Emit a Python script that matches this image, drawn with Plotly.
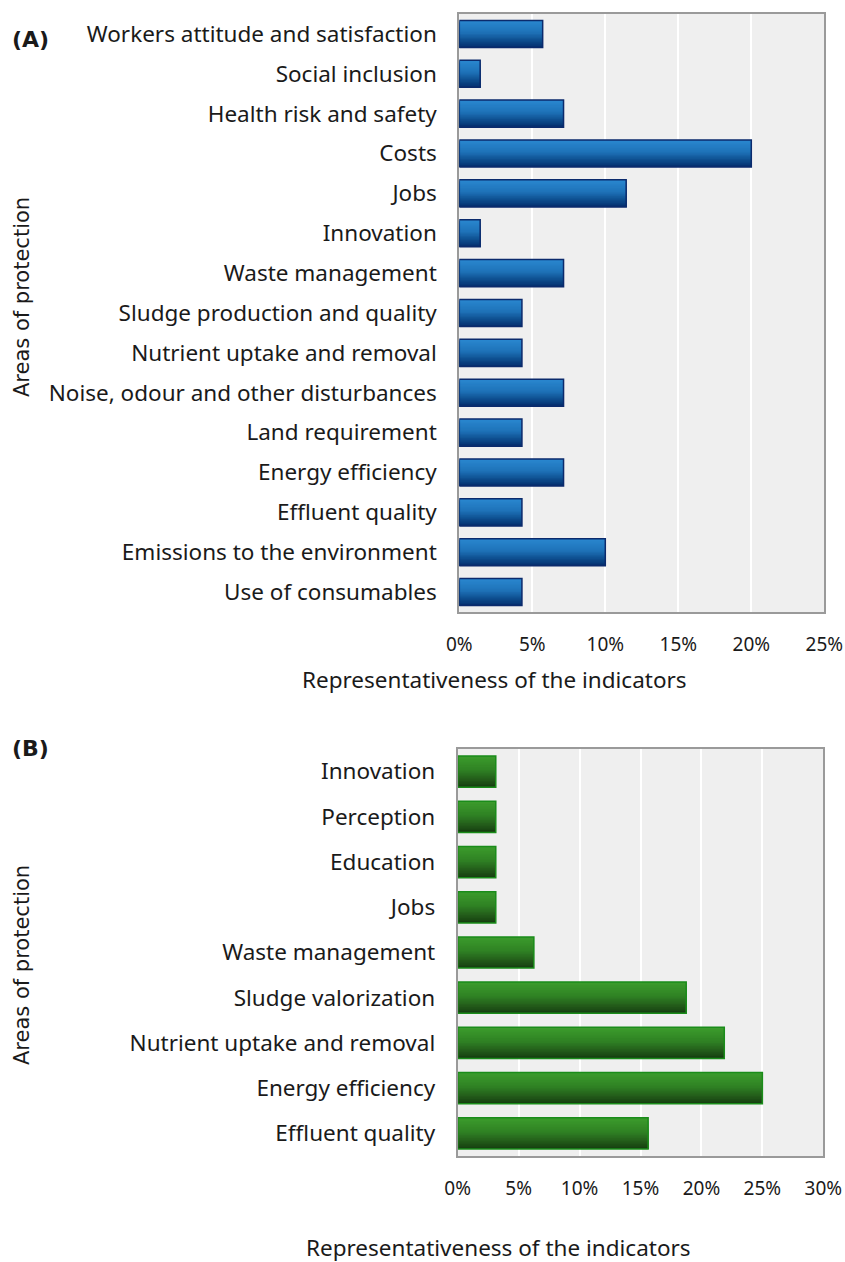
import plotly.graph_objects as go

# ---------------- data ----------------
cats_a = ["Workers attitude and satisfaction", "Social inclusion", "Health risk and safety",
          "Costs", "Jobs", "Innovation", "Waste management", "Sludge production and quality",
          "Nutrient uptake and removal", "Noise, odour and other disturbances",
          "Land requirement", "Energy efficiency", "Effluent quality",
          "Emissions to the environment", "Use of consumables"]
vals_a = [5.71, 1.43, 7.14, 20.0, 11.43, 1.43, 7.14, 4.29, 4.29, 7.14, 4.29, 7.14, 4.29, 10.0, 4.29]

cats_b = ["Innovation", "Perception", "Education", "Jobs", "Waste management",
          "Sludge valorization", "Nutrient uptake and removal", "Energy efficiency",
          "Effluent quality"]
vals_b = [3.125, 3.125, 3.125, 3.125, 6.25, 18.75, 21.875, 25.0, 15.625]

ticks_a = [0, 5, 10, 15, 20, 25]
ticks_b = [0, 5, 10, 15, 20, 25, 30]
ticktext_a = ["%d%%" % v for v in ticks_a]
ticktext_b = ["%d%%" % v for v in ticks_b]

# ---------------- style ----------------
W, H = 845, 1262
FONT = "Noto Sans"
TXT = "#1a1a1a"
blue_stops = [(0.0, (42, 136, 208)), (0.45, (30, 114, 184)), (0.75, (13, 76, 140)), (1.0, (4, 46, 110))]
green_stops = [(0.0, (60, 156, 44)), (0.45, (47, 130, 36)), (0.75, (35, 92, 26)), (1.0, (22, 62, 16))]
NSLICE = 20


def interp(stops, t):
    for (t0, c0), (t1, c1) in zip(stops[:-1], stops[1:]):
        if t <= t1:
            f = (t - t0) / (t1 - t0) if t1 > t0 else 0
            return "rgb(%d,%d,%d)" % tuple(round(a + (b - a) * f) for a, b in zip(c0, c1))
    return "rgb(%d,%d,%d)" % stops[-1][1]


fig = go.Figure()


def add_bars(cats, vals, stops, outline, width, xa, ya):
    # gradient: each slice runs from its own top down to the bar bottom,
    # later (darker) slices are painted over earlier ones -> no seams
    for i in range(NSLICE):
        t = (i + 0.5) / NSLICE
        fig.add_trace(go.Bar(
            y=cats, x=vals, orientation="h", base=0,
            width=width * (NSLICE - i) / NSLICE,
            offset=-width / 2 + i * width / NSLICE,
            marker=dict(color=interp(stops, t), line=dict(width=0)),
            xaxis=xa, yaxis=ya, showlegend=False, hoverinfo="skip"))
    fig.add_trace(go.Bar(
        y=cats, x=vals, orientation="h", base=0, width=width, offset=-width / 2,
        marker=dict(color="rgba(0,0,0,0)", line=dict(color=outline, width=1.5)),
        xaxis=xa, yaxis=ya, showlegend=False))


add_bars(cats_a, vals_a, blue_stops, "#0b2a6c", 0.68, "x", "y")
add_bars(cats_b, vals_b, green_stops, "#1a8c1a", 0.69, "x2", "y2")


def px_x(p):
    return p / W


def px_y(p):
    return 1 - p / H


axis_common = dict(showline=True, mirror=True, linecolor="#9a9a9a", linewidth=2,
                   ticks="", zeroline=False, automargin=False)
xtick_font = dict(family=FONT, size=19, color=TXT)
ytick_font = dict(family=FONT, size=22.5, color=TXT)

fig.update_layout(
    width=W, height=H, autosize=False, margin=dict(l=0, r=0, t=0, b=0, autoexpand=False),
    paper_bgcolor="white", plot_bgcolor="#efefef", barmode="overlay",
    font=dict(family=FONT, color=TXT),
    xaxis=dict(domain=[px_x(459.3), px_x(824.3)], range=[0, 25], tickmode="array",
               tickvals=ticks_a, ticktext=ticktext_a, tickfont=xtick_font,
               showgrid=True, gridcolor="white", gridwidth=2,
               anchor="y", ticklabelstandoff=14, **axis_common),
    yaxis=dict(domain=[px_y(612), px_y(14)], type="category", categoryorder="array",
               categoryarray=cats_a, autorange="reversed", anchor="x", tickfont=ytick_font,
               showgrid=False, ticklabelstandoff=16, **axis_common),
    xaxis2=dict(domain=[px_x(457.7), px_x(823.3)], range=[0, 30], tickmode="array",
                tickvals=ticks_b, ticktext=ticktext_b, tickfont=xtick_font,
                showgrid=True, gridcolor="white", gridwidth=2,
                anchor="y2", ticklabelstandoff=14, **axis_common),
    yaxis2=dict(domain=[px_y(1156), px_y(749)], type="category", categoryorder="array",
                categoryarray=cats_b, autorange="reversed", anchor="x2", tickfont=ytick_font,
                showgrid=False, ticklabelstandoff=16, **axis_common),
)


def note(text, x, y, size, family=FONT, angle=0):
    return dict(text=text, x=px_x(x), y=px_y(y), xref="paper", yref="paper",
                xanchor="center", yanchor="middle", showarrow=False, textangle=angle,
                font=dict(family=family, size=size, color=TXT))


ann = [
    note("<b>(A)</b>", 31, 40, 22, "DejaVu Sans"),
    note("<b>(B)</b>", 31, 748, 22, "DejaVu Sans"),
    note("Areas of protection", 22, 297, 21, "DejaVu Sans", -90),
    note("Areas of protection", 22, 965, 21, "DejaVu Sans", -90),
    note("Representativeness of the indicators", 494, 679, 22.5),
    note("Representativeness of the indicators", 499, 1247, 22.5),
]
fig.update_layout(annotations=ann)

fig.write_html("out.html", config={"responsive": False})
